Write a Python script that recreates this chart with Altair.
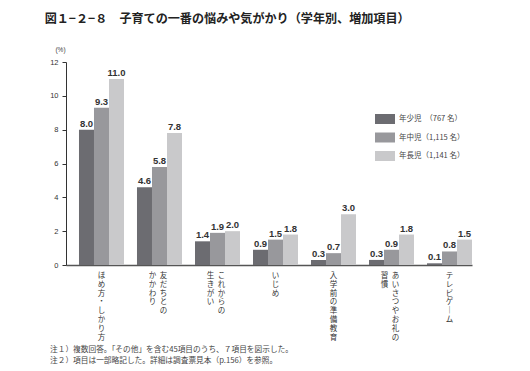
import altair as alt
import pandas as pd

# ---- data ----
categories = ["ほめ方・しかり方", "友だちとのかかわり", "これからの生きがい", "いじめ",
              "入学前の準備教育", "あいさつやお礼の習慣", "テレビゲーム"]
series = ["年少児　（767 名）", "年中児（1,115 名）", "年長児（1,141 名）"]
nensho = [8.0, 4.6, 1.4, 0.9, 0.3, 0.3, 0.1]
nenchu = [9.3, 5.8, 1.9, 1.5, 0.7, 0.9, 0.8]
nencho = [11.0, 7.8, 2.0, 1.8, 3.0, 1.8, 1.5]
colors = ["#6c6c71", "#98989c", "#c9c9cb"]
y_ticks = [0, 2, 4, 6, 8, 10, 12]

# vertical (tategaki) category labels: right column, left column
label_right = ["ほめ方・しかり方", "友だちとの", "これからの", "いじめ",
               "入学前の準備教育", "あいさつやお礼の", "テレビゲ｜ム"]
label_left = ["", "かかわり", "生きがい", "", "", "習慣", ""]

title_text = "図１−２−８　子育ての一番の悩みや気がかり（学年別、増加項目）"
note1 = "注１）複数回答。「その他」を含む45項目のうち、７項目を図示した。"
note2 = "注２）項目は一部略記した。詳細は調査票見本（p.156）を参照。"

FONT = "Liberation Sans, 'Noto Sans CJK JP', sans-serif"
JFONT = "'Noto Sans CJK JP', sans-serif"

rows = []
for vals, s in zip([nensho, nenchu, nencho], series):
    for c, v in zip(categories, vals):
        rows.append({"cat": c, "series": s, "value": v})
df = pd.DataFrame(rows)

def vert(t):
    return "\n".join(list(t))

single, right, left = [], [], []
for c, r, l in zip(categories, label_right, label_left):
    if l:
        right.append({"cat": c, "lab": vert(r)})
        left.append({"cat": c, "lab": vert(l)})
    else:
        single.append({"cat": c, "lab": vert(r)})

W, H = 406, 203

xscale = alt.Scale(domain=categories, paddingInner=0.224, paddingOuter=0.112, align=1)
x = alt.X("cat:N", scale=xscale, sort=categories,
          axis=alt.Axis(labels=False, ticks=False, title=None, domainColor="#555555",
                        domainWidth=1.5))
yaxis = alt.Axis(values=y_ticks, grid=False, title="(%)", titleAngle=0,
                 titleX=-6, titleY=-10, titleAlign="center", titleFontSize=6.5,
                 titleFontWeight="normal", titleColor="#444444", titleFont=FONT,
                 labelFontSize=7.5, labelColor="#333333", labelFont=FONT,
                 labelOverlap=False, tickSize=4, tickColor="#333333",
                 domainColor="#333333", labelPadding=4)
yscale = alt.Scale(domain=[0, 12], nice=False)
y = alt.Y("value:Q", scale=yscale, axis=yaxis)
xoff = alt.XOffset("series:N", sort=series, scale=alt.Scale(paddingInner=0, paddingOuter=0))

bars = alt.Chart(df).mark_bar().encode(
    x=x, y=y, xOffset=xoff,
    color=alt.Color("series:N", sort=series,
                    scale=alt.Scale(domain=series, range=colors),
                    legend=alt.Legend(title=None, orient="none", legendX=309, legendY=47,
                                      symbolType="M-1,-0.5H1V0.5H-1Z", symbolSize=400,
                                      symbolStrokeWidth=0, labelFontSize=7.5,
                                      labelFont=JFONT, labelColor="#444444",
                                      rowPadding=3.5, labelOffset=4)),
)

vals = alt.Chart(df).mark_text(baseline="bottom", dy=-1, fontSize=9.5, fontWeight="bold",
                               color="#333333", font=FONT).encode(
    x=x, y=alt.Y("value:Q", scale=yscale, axis=yaxis), xOffset=xoff,
    text=alt.Text("value:Q", format=".1f"))

def lab_layer(data, dx):
    return alt.Chart(pd.DataFrame(data)).mark_text(
        baseline="top", align="center", lineBreak="\n", fontSize=7.5, lineHeight=8.8,
        color="#333333", font=JFONT, dx=dx).encode(
        x=alt.X("cat:N", scale=xscale, sort=categories), y=alt.value(H + 7), text="lab:N")

notes1 = alt.Chart(pd.DataFrame({"t": [note1]})).mark_text(
    align="left", baseline="middle", fontSize=7.7, color="#444444", font=JFONT).encode(
    x=alt.value(-16), y=alt.value(H + 85), text="t:N")
notes2 = alt.Chart(pd.DataFrame({"t": [note2]})).mark_text(
    align="left", baseline="middle", fontSize=7.7, color="#444444", font=JFONT).encode(
    x=alt.value(-16), y=alt.value(H + 96), text="t:N")

chart = alt.layer(
    bars, vals,
    lab_layer(single, 0), lab_layer(right, 4), lab_layer(left, -7),
    notes1, notes2,
).properties(
    width=W, height=H,
    autosize=alt.AutoSizeParams(type="none"),
    padding={"left": 58, "top": 54, "right": 50, "bottom": 100},
    title=alt.TitleParams(title_text, anchor="start", dx=-5, offset=21, fontSize=12.1,
                          fontWeight="bold", font=JFONT, color="#222222"),
).configure_view(stroke=None)

chart.save("out.html", embed_options={"renderer": "svg", "actions": False})
